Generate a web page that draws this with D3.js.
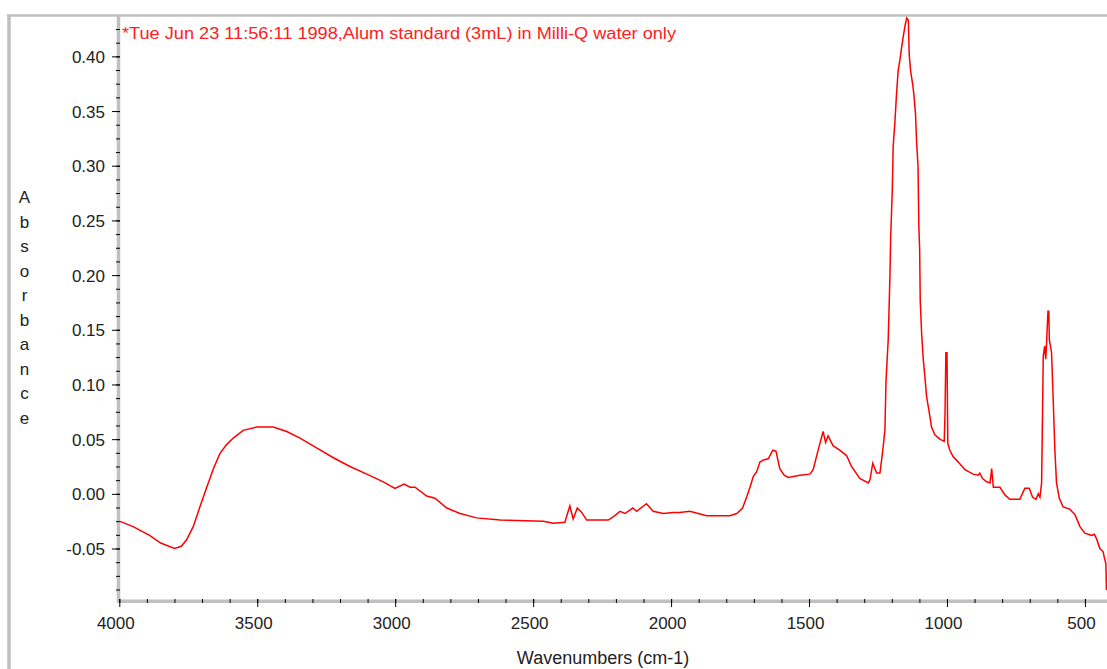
<!DOCTYPE html>
<html>
<head>
<meta charset="utf-8">
<script src="https://cdn.jsdelivr.net/npm/d3@7/dist/d3.min.js"></script>
<style>
  html, body { margin: 0; padding: 0; background: #ffffff; }
  svg { display: block; }
  text { font-family: "Liberation Sans", Arial, sans-serif; }
</style>
</head>
<body>
<svg id="chart" width="1107" height="669"></svg>
<script>
// ---- Data ----
const title = "*Tue Jun 23 11:56:11 1998,Alum standard (3mL) in Milli-Q water only";
const xLabel = "Wavenumbers (cm-1)";
const yLabel = "Absorbance";

const wavenumbers = [
  4000, 3950, 3890, 3850, 3800, 3775, 3756, 3732, 3708, 3683, 3659, 3635, 3611, 3587, 3551, 3502,
  3442, 3393, 3345, 3285, 3224, 3164, 3103, 3043, 3001, 2968, 2946, 2928, 2886, 2856, 2813, 2765,
  2705, 2620, 2463, 2427, 2385, 2367, 2355, 2340, 2324, 2306, 2228, 2204, 2185, 2167, 2139, 2125,
  2089, 2065, 2028, 1992, 1968, 1932, 1902, 1871, 1787, 1762, 1741, 1726, 1714, 1702, 1690, 1678,
  1665, 1648, 1631, 1620, 1606, 1590, 1575, 1533, 1497, 1485, 1467, 1449, 1440, 1431, 1413, 1389,
  1364, 1346, 1316, 1285, 1279, 1269, 1255, 1243, 1233, 1225, 1221, 1213, 1207, 1204, 1198, 1195,
  1189, 1183, 1177, 1171, 1164, 1158, 1152, 1146, 1140, 1137, 1132, 1124, 1120, 1114, 1110, 1105,
  1102, 1099, 1097, 1092, 1086, 1080, 1074, 1064, 1056, 1044, 1026, 1010, 1007, 1004, 1000, 997,
  990, 978, 959, 935, 905, 887, 881, 871, 856, 844, 838, 832, 808, 790, 772, 736,
  718, 702, 690, 678, 669, 663, 657, 651, 646, 642, 639, 634, 631, 629, 621, 615,
  609, 603, 593, 579, 555, 536, 518, 500, 476, 466, 458, 446, 434, 429, 424, 422
];
const absorbance = [
  -0.025, -0.030, -0.038, -0.045, -0.050, -0.048, -0.042, -0.030, -0.012, 0.006, 0.023, 0.037, 0.045, 0.051, 0.058, 0.061,
  0.061, 0.057, 0.051, 0.042, 0.033, 0.025, 0.018, 0.011, 0.005, 0.009, 0.006, 0.006, -0.002, -0.004, -0.013, -0.018,
  -0.022, -0.024, -0.025, -0.027, -0.026, -0.011, -0.023, -0.013, -0.017, -0.024, -0.024, -0.020, -0.016, -0.018, -0.013, -0.016,
  -0.009, -0.016, -0.018, -0.017, -0.017, -0.016, -0.018, -0.020, -0.020, -0.018, -0.013, -0.003, 0.006, 0.016, 0.020, 0.029,
  0.031, 0.032, 0.040, 0.039, 0.023, 0.017, 0.015, 0.017, 0.018, 0.022, 0.040, 0.057, 0.047, 0.053, 0.044, 0.040,
  0.035, 0.025, 0.014, 0.010, 0.013, 0.028, 0.019, 0.019, 0.039, 0.058, 0.103, 0.141, 0.197, 0.235, 0.280, 0.318,
  0.339, 0.365, 0.387, 0.396, 0.409, 0.419, 0.428, 0.435, 0.433, 0.402, 0.387, 0.374, 0.365, 0.347, 0.321, 0.300,
  0.245, 0.223, 0.177, 0.147, 0.123, 0.107, 0.089, 0.074, 0.061, 0.054, 0.050, 0.048, 0.074, 0.129, 0.129, 0.046,
  0.040, 0.034, 0.029, 0.022, 0.018, 0.017, 0.019, 0.014, 0.011, 0.010, 0.023, 0.006, 0.006, -0.001, -0.005, -0.005,
  0.005, 0.005, -0.003, -0.005, 0.000, -0.003, 0.010, 0.126, 0.135, 0.123, 0.138, 0.167, 0.167, 0.141, 0.129, 0.086,
  0.040, 0.010, -0.004, -0.012, -0.014, -0.019, -0.030, -0.036, -0.038, -0.037, -0.041, -0.050, -0.053, -0.059, -0.064, -0.088
];

const xTicks = [4000, 3500, 3000, 2500, 2000, 1500, 1000, 500];
const yTicks = [-0.05, 0.00, 0.05, 0.10, 0.15, 0.20, 0.25, 0.30, 0.35, 0.40];
const xDomain = [4000, 420];
const yDomain = [-0.098, 0.436];

// ---- Layout ----
const svg = d3.select("#chart");
const plotLeft = 119.3, plotRight = 1107, plotTop = 17, plotBottom = 601;
const x = d3.scaleLinear().domain(xDomain).range([plotLeft, plotRight]);
const y = d3.scaleLinear().domain(yDomain).range([plotBottom, plotTop]);
const fmtY = v => d3.format(".2f")(v).replace("\u2212", "-");

// outer frame (top and left gray borders)
svg.append("line").attr("x1", 7).attr("x2", 1107).attr("y1", 15.5).attr("y2", 15.5)
  .attr("stroke", "#c0c0c0").attr("stroke-width", 2.5);
svg.append("line").attr("x1", 9).attr("x2", 9).attr("y1", 14.5).attr("y2", 669)
  .attr("stroke", "#c0c0c0").attr("stroke-width", 3.5);

// axis bars
svg.append("line").attr("x1", 118.5).attr("x2", 118.5).attr("y1", 15).attr("y2", 603)
  .attr("stroke", "#c0c0c0").attr("stroke-width", 3.5);
svg.append("line").attr("x1", 117).attr("x2", 1107).attr("y1", 601.2).attr("y2", 601.2)
  .attr("stroke", "#c0c0c0").attr("stroke-width", 3.5);

// y axis ticks via d3 axis
const yMinor = d3.range(-0.0875, 0.4300, 0.0125).map(v => +v.toFixed(4));
const yAxisMinor = d3.axisLeft(y).tickValues(yMinor).tickSize(4).tickFormat("");
const gyMinor = svg.append("g").attr("transform", `translate(120,0)`).call(yAxisMinor);
gyMinor.select(".domain").remove();
gyMinor.selectAll("line").attr("stroke", "#000");

const yAxisMajor = d3.axisLeft(y).tickValues(yTicks).tickSize(8).tickPadding(6)
  .tickFormat(fmtY);
const gy = svg.append("g").attr("transform", `translate(120,0)`).call(yAxisMajor);
gy.select(".domain").remove();
gy.selectAll("line").attr("stroke", "#000");
gy.selectAll("text").attr("font-size", 17).attr("fill", "#222")
  .attr("font-family", "'Liberation Sans', Arial, sans-serif")
  .attr("x", -15).attr("dy", "0.36em");

// x axis ticks
const xMinor = d3.range(4000, 420, -100);
const xAxisMinor = d3.axisBottom(x).tickValues(xMinor).tickSize(4).tickFormat("");
const gxMinor = svg.append("g").attr("transform", `translate(0,599)`).call(xAxisMinor);
gxMinor.select(".domain").remove();
gxMinor.selectAll("line").attr("stroke", "#000");

const xAxisMajor = d3.axisBottom(x).tickValues(xTicks).tickSize(8).tickFormat(d3.format("d"));
const gx = svg.append("g").attr("transform", `translate(0,599)`).call(xAxisMajor);
gx.select(".domain").remove();
gx.selectAll("line").attr("stroke", "#000");
gx.selectAll("text").attr("font-size", 17).attr("fill", "#222")
  .attr("font-family", "'Liberation Sans', Arial, sans-serif")
  .attr("x", -4).attr("y", 30).attr("dy", 0);

// spectrum line
const pts = wavenumbers.map((w, i) => [w, absorbance[i]]);
const line = d3.line().x(d => x(d[0])).y(d => y(d[1]));
svg.append("path").datum(pts).attr("d", line)
  .attr("fill", "none").attr("stroke", "#ff0000").attr("stroke-width", 1.5)
  .attr("stroke-linejoin", "miter");

// title
svg.append("text").attr("x", 122).attr("y", 39).attr("fill", "#ff2020")
  .attr("font-size", 17).attr("textLength", 554).attr("lengthAdjust", "spacingAndGlyphs")
  .text(title);

// y label, stacked letters
svg.append("g").selectAll("text").data(yLabel.split("")).join("text")
  .attr("x", 24.5).attr("y", (d, i) => 203 + i * 24.5)
  .attr("text-anchor", "middle").attr("font-size", 17).attr("fill", "#222")
  .text(d => d);

// x label
svg.append("text").attr("x", 603).attr("y", 664).attr("text-anchor", "middle")
  .attr("font-size", 18).attr("fill", "#222").text(xLabel);
</script>
</body>
</html>
